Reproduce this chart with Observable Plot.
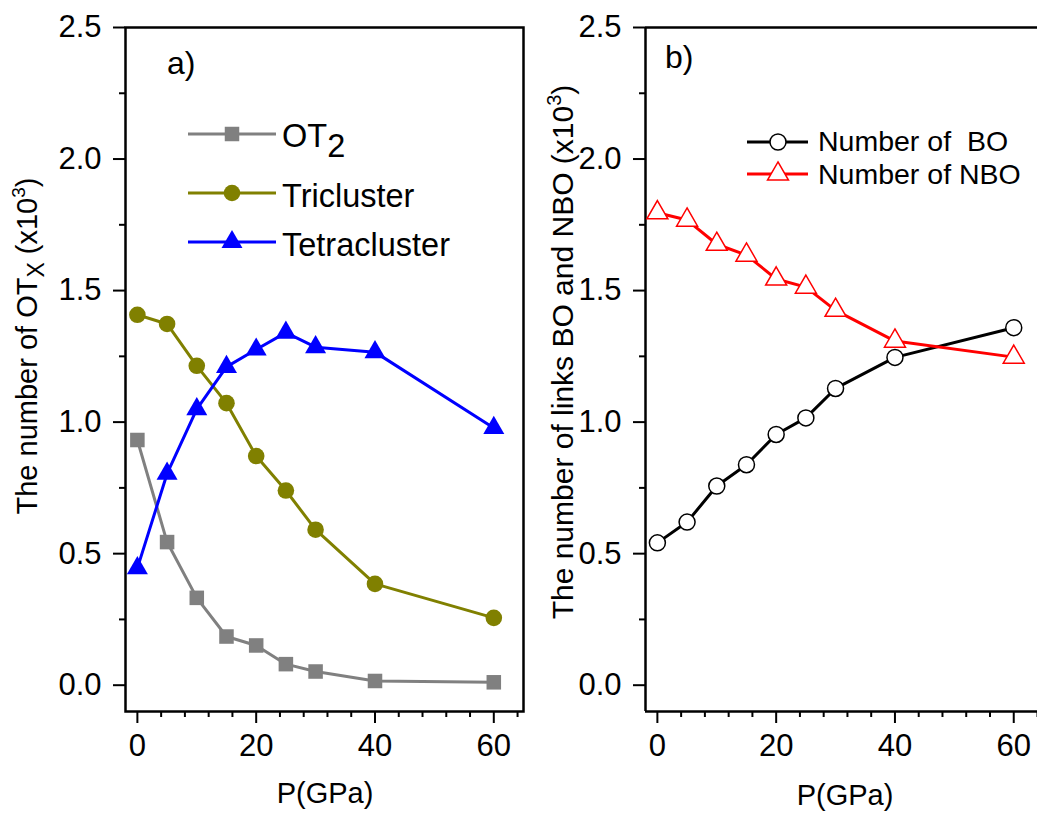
<!DOCTYPE html>
<html><head><meta charset="utf-8">
<script src="https://cdn.jsdelivr.net/npm/d3@7"></script>
<script src="https://cdn.jsdelivr.net/npm/@observablehq/plot@0.6"></script>
<style>
html,body{margin:0;padding:0;background:#fff;overflow:hidden;}
#wrap{position:relative;width:1037px;height:814px;overflow:hidden;}
#wrap svg{position:absolute;top:0;}
</style></head><body><div id="wrap"></div>
<script>
// ---- data (pressure in GPa, counts in x10^3) ----
const pressure = [0, 5, 10, 15, 20, 25, 30, 40, 60];
const ot2 = [0.932, 0.544, 0.332, 0.185, 0.151, 0.080, 0.052, 0.016, 0.011];
const tricluster = [1.408, 1.373, 1.214, 1.072, 0.871, 0.740, 0.591, 0.385, 0.256];
const tetracluster = [0.445, 0.804, 1.049, 1.210, 1.276, 1.340, 1.285, 1.266, 0.978];
const bo = [0.541, 0.620, 0.757, 0.838, 0.953, 1.016, 1.128, 1.246, 1.359];
const nbo = [1.796, 1.768, 1.676, 1.635, 1.544, 1.513, 1.425, 1.308, 1.247];

const xMajorTicks = [0, 20, 40, 60];
const xMinorTicks = [4, 8, 12, 16, 24, 28, 32, 36, 44, 48, 52, 56, 64];
const yMajorTicks = [0, 0.5, 1.0, 1.5, 2.0, 2.5];
const yMinorTicks = [0.25, 0.75, 1.25, 1.75, 2.25];

const yDomain = [-0.1, 2.5];
const xDomainLeft = [-2, 65];
const xDomainRight = [-2, 64];

const FONT = "'Liberation Sans', Arial, Helvetica, sans-serif";
const TICK_FS = 31;
const rows = (vals) => pressure.map((P, i) => ({P, v: vals[i]}));

function axes() {
  return [
    Plot.axisX(xMajorTicks, {tickSize: 12, tickPadding: 10, strokeWidth: 2, fontSize: TICK_FS, label: null, tickFormat: d => String(d)}),
    Plot.axisX(xMinorTicks, {tickSize: 6, strokeWidth: 2, label: null, tickFormat: () => ""}),
    Plot.axisY(yMajorTicks, {tickSize: 12, tickPadding: 12, strokeWidth: 2, fontSize: TICK_FS, label: null, tickFormat: d3.format(".1f")}),
    Plot.axisY(yMinorTicks, {tickSize: 6, strokeWidth: 2, label: null, tickFormat: () => ""})
  ];
}

const wrap = document.getElementById("wrap");

// ---- panel a ----
const left = Plot.plot({
  width: 540, height: 814,
  marginLeft: 125, marginRight: 17, marginTop: 27, marginBottom: 103,
  x: {domain: xDomainLeft},
  y: {domain: yDomain},
  style: {fontFamily: FONT, fontSize: TICK_FS + "px", color: "black", background: "white", overflow: "visible"},
  marks: [
    ...axes(),
    Plot.frame({strokeWidth: 2.5}),
    Plot.line(rows(ot2), {x: "P", y: "v", stroke: "#808080", strokeWidth: 3}),
    Plot.dot(rows(ot2), {x: "P", y: "v", symbol: "square", r: 8.2, fill: "#808080"}),
    Plot.line(rows(tricluster), {x: "P", y: "v", stroke: "#808000", strokeWidth: 3}),
    Plot.dot(rows(tricluster), {x: "P", y: "v", symbol: "circle", r: 8.3, fill: "#808000"}),
    Plot.line(rows(tetracluster), {x: "P", y: "v", stroke: "#0000ff", strokeWidth: 3}),
    Plot.dot(rows(tetracluster), {x: "P", y: "v", symbol: "triangle", r: 7.8, fill: "#0000ff"})
  ]
});
left.style.left = "0px";
wrap.appendChild(left);

// ---- panel b ----
const right = Plot.plot({
  width: 497, height: 814,
  marginLeft: 105, marginRight: 0, marginTop: 27, marginBottom: 103,
  x: {domain: xDomainRight},
  y: {domain: yDomain},
  style: {fontFamily: FONT, fontSize: TICK_FS + "px", color: "black", background: "white", overflow: "visible"},
  marks: [
    ...axes(),
    Plot.ruleY(yDomain, {strokeWidth: 2.5}),
    Plot.ruleX([xDomainRight[0]], {strokeWidth: 2.5}),
    Plot.line(rows(bo), {x: "P", y: "v", stroke: "#000000", strokeWidth: 3}),
    Plot.dot(rows(bo), {x: "P", y: "v", symbol: "circle", r: 8, fill: "white", stroke: "#000000", strokeWidth: 1.5}),
    Plot.line(rows(nbo), {x: "P", y: "v", stroke: "#ff0000", strokeWidth: 3}),
    Plot.dot(rows(nbo), {x: "P", y: "v", symbol: "triangle", r: 7.8, fill: "white", stroke: "#ff0000", strokeWidth: 1.5})
  ]
});
right.style.left = "540px";
wrap.appendChild(right);

// ---- annotations: titles, panel letters, legends ----
function addText(svg, x, y, size, parts, opts = {}) {
  const t = d3.select(svg).append("text")
    .attr("x", x).attr("y", y)
    .attr("font-family", FONT).attr("font-size", size)
    .attr("fill", "black")
    .attr("text-anchor", opts.anchor || "start")
    .style("white-space", "pre");
  if (opts.rotate) t.attr("transform", `rotate(${opts.rotate},${x},${y})`);
  for (const p of parts) {
    const s = t.append("tspan").text(p.t);
    if (p.dy) s.attr("dy", p.dy);
    if (p.size) s.attr("font-size", p.size);
  }
  return t;
}

// panel a texts
addText(left, 167, 74, 32, [{t: "a)"}]);
addText(left, 325, 803, 29, [{t: "P(GPa)"}], {anchor: "middle"});
addText(left, 37, 346, 29, [
  {t: "The number of OT"}, {t: "X", dy: 7, size: 23}, {t: " (x10", dy: -7},
  {t: "3", dy: -12, size: 19}, {t: ")", dy: 12}
], {anchor: "middle", rotate: -90});

// panel b texts (local coordinates: page x - 540)
addText(right, 665 - 540, 68, 32, [{t: "b)"}]);
addText(right, 845 - 540, 805, 29, [{t: "P(GPa)"}], {anchor: "middle"});
addText(right, 573 - 540, 352, 30, [
  {t: "The number of links BO and NBO (x10"},
  {t: "3", dy: -12, size: 20}, {t: ")", dy: 12}
], {anchor: "middle", rotate: -90});

// legend a
const legA = [
  {y: 134, color: "#808080", sym: d3.symbolSquare, size: 210, label: [{t: "OT"}, {t: "2", dy: 10}], base: 147},
  {y: 193, color: "#808000", sym: d3.symbolCircle, size: 216, label: [{t: "Tricluster"}], base: 207},
  {y: 242, color: "#0000ff", sym: d3.symbolTriangle, size: 190, label: [{t: "Tetracluster"}], base: 256}
];
const ga = d3.select(left).append("g");
for (const e of legA) {
  ga.append("line").attr("x1", 188).attr("x2", 276).attr("y1", e.y).attr("y2", e.y)
    .attr("stroke", e.color).attr("stroke-width", 3);
  ga.append("path").attr("d", d3.symbol(e.sym, e.size)()).attr("transform", `translate(232,${e.y})`)
    .attr("fill", e.color);
  addText(left, 282, e.base, 32.5, e.label);
}

// legend b
const legB = [
  {y: 142, color: "#000000", sym: d3.symbolCircle, size: 201, label: "Number of  BO", base: 151},
  {y: 174, color: "#ff0000", sym: d3.symbolTriangle, size: 190, label: "Number of NBO", base: 184}
];
const gb = d3.select(right).append("g");
for (const e of legB) {
  gb.append("line").attr("x1", 747 - 540).attr("x2", 808 - 540).attr("y1", e.y).attr("y2", e.y)
    .attr("stroke", e.color).attr("stroke-width", 3);
  gb.append("path").attr("d", d3.symbol(e.sym, e.size)()).attr("transform", `translate(${778 - 540},${e.y})`)
    .attr("fill", "white").attr("stroke", e.color).attr("stroke-width", 1.5);
  addText(right, 818 - 540, e.base, 28.5, [{t: e.label}]);
}
</script>
</body></html>
